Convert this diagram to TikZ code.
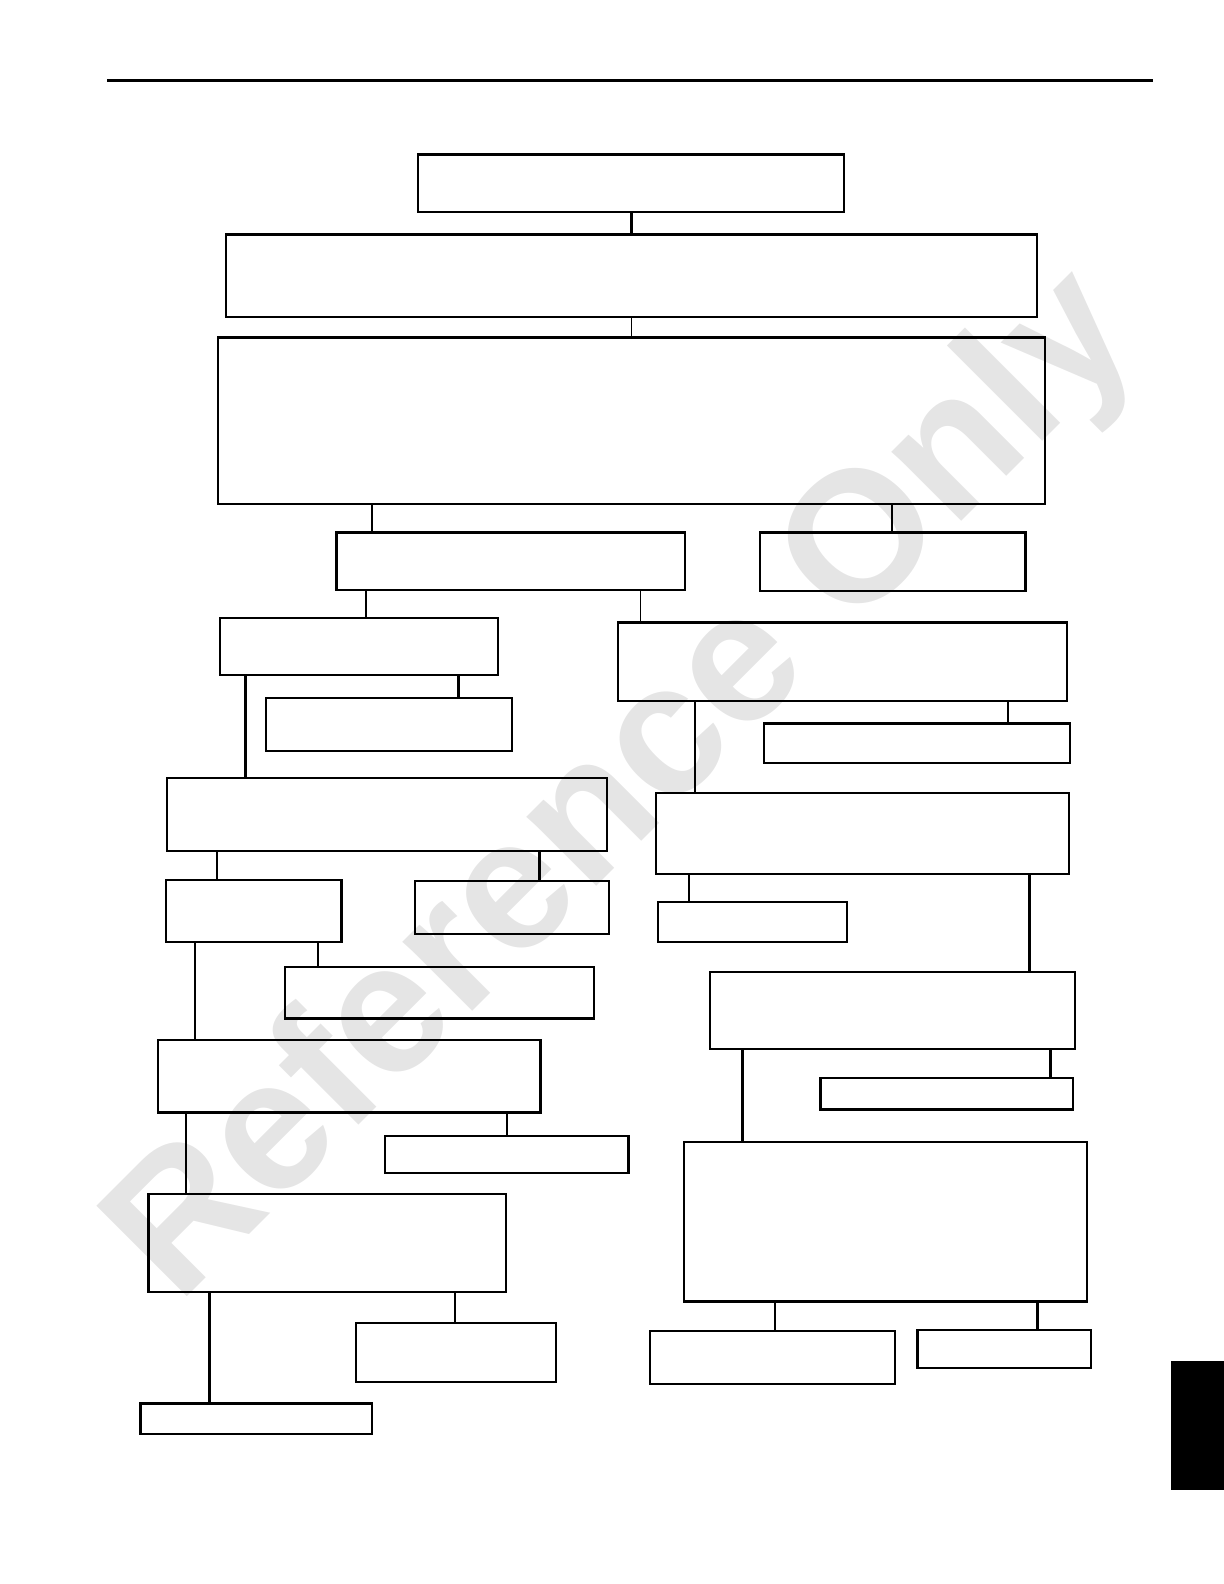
\documentclass[tikz,border=0pt]{standalone}
\usepackage{fontspec}
\newfontfamily\wmfont{Liberation Sans}
\usetikzlibrary{fit}
\newcommand\bx[5]{\node[box, fit={(#2,#3) (#4,#5)}] (#1) {};}
\newcommand\cn[4][conn]{\draw[#1] (#2,0 |- #3.south) -- (#2,0 |- #4.north);}
\begin{document}
\begin{tikzpicture}[x=0.5052pt,y=-0.5052pt,
  box/.style={draw, line width=1.1pt, inner sep=0pt},
  conn/.style={line width=0.9pt},
  tconn/.style={line width=1.4pt},
  wm/.style={anchor=base west, rotate=45, inner sep=0pt, text=black!10,
    font=\wmfont\bfseries\fontsize{93}{93}\selectfont}]
\useasboundingbox (0,0) rectangle (1211.4,1567.7);
% watermark
\node[wm] (wmark) at (176,1292) {Reference Only};
% page furniture
\draw[line width=1.5pt] (106,80) -- (1141,80);
\fill (1159,1347) rectangle (1211.4,1475);
% boxes
\bx{A}{414}{153}{835}{210}
\bx{B}{224}{232}{1026}{314}
\bx{C}{216}{334}{1034}{499}
\bx{D}{333}{527}{678}{584}
\bx{E}{752}{527}{1015}{585}
\bx{F}{218}{612}{493}{668}
\bx{G}{612}{616}{1056}{694}
\bx{H}{263}{691}{507}{743}
\bx{I}{756}{716}{1059}{755}
\bx{J}{165}{770}{601}{842}
\bx{K}{649}{785}{1058}{865}
\bx{L}{164}{871}{338}{932}
\bx{M}{411}{872}{603}{924}
\bx{N}{651}{893}{838}{932}
\bx{O}{282}{957}{588}{1008}
\bx{P}{703}{962}{1064}{1038}
\bx{Q}{156}{1029}{535}{1101}
\bx{R}{812}{1067}{1062}{1098}
\bx{S}{381}{1124}{622}{1161}
\bx{T}{677}{1130}{1076}{1288}
\bx{U}{147}{1182}{501}{1279}
\bx{V}{352}{1309}{550}{1368}
\bx{W}{643}{1317}{886}{1370}
\bx{X}{908}{1316}{1080}{1354}
\bx{Y}{139}{1389}{368}{1419}
% connectors
\cn[tconn]{625}{A}{B}
\cn{625}{B}{C}
\cn{368}{C}{D}
\cn{883}{C}{E}
\cn{362}{D}{F}
\cn{634}{D}{G}
\cn[tconn]{454}{F}{H}
\cn[tconn]{243}{F}{J}
\cn{998}{G}{I}
\cn{688}{G}{K}
\cn{215}{J}{L}
\cn[tconn]{534}{J}{M}
\cn{315}{L}{O}
\cn[tconn]{193}{L}{Q}
\cn[tconn]{682}{K}{N}
\cn[tconn]{1019}{K}{P}
\cn{502}{Q}{S}
\cn[tconn]{184}{Q}{U}
\cn[tconn]{1040}{P}{R}
\cn[tconn]{735}{P}{T}
\cn{450}{U}{V}
\cn[tconn]{207}{U}{Y}
\cn[tconn]{767}{T}{W}
\cn[tconn]{1027}{T}{X}
\end{tikzpicture}
\end{document}
